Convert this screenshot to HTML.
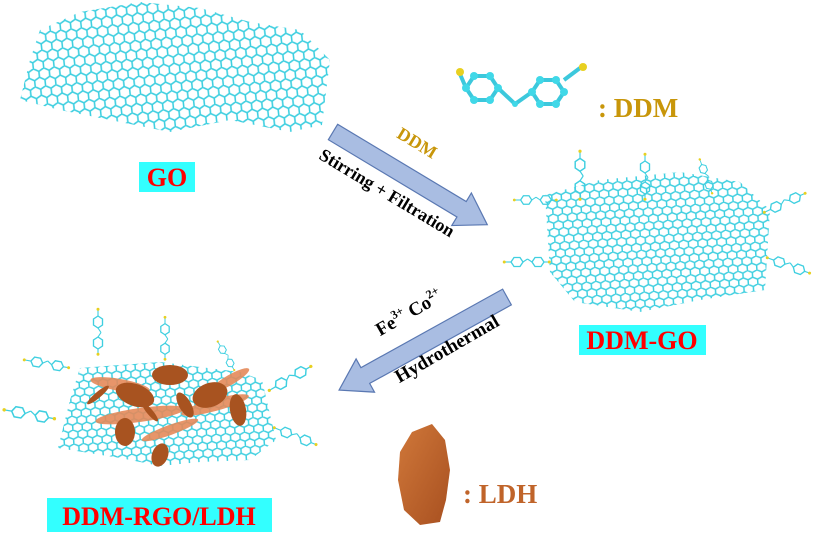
<!DOCTYPE html>
<html><head><meta charset="utf-8"><style>
html,body{margin:0;padding:0;background:#fff;}
svg{display:block;font-family:"Liberation Serif",serif;font-weight:bold;}
</style></head><body>
<svg width="839" height="545" viewBox="0 0 839 545" xmlns="http://www.w3.org/2000/svg">
<defs>
<pattern id="hex" width="10.4" height="18" patternUnits="userSpaceOnUse" patternTransform="rotate(-6)">
<path d="M5.2,0 L10.4,3 L10.4,9 L5.2,12 L0,9 L0,3 Z M5.2,12 L5.2,18" fill="none" stroke="#3fcfe0" stroke-width="1.6"/>
</pattern>
<pattern id="hex2" width="9.5" height="14" patternUnits="userSpaceOnUse" patternTransform="rotate(-4)">
<path d="M4.75,0 L9.5,2.33 L9.5,7 L4.75,9.33 L0,7 L0,2.33 Z M4.75,9.33 L4.75,14" fill="none" stroke="#3fcfe0" stroke-width="1.5"/>
</pattern>
<g id="mol">
<line x1="0" y1="0" x2="8" y2="0" stroke="#3fcfe0" stroke-width="1.5"/>
<polygon points="8,0 12,-6 20,-6 24,0 20,6 12,6" fill="none" stroke="#3fcfe0" stroke-width="1.8"/>
<line x1="24" y1="0" x2="30" y2="-4" stroke="#3fcfe0" stroke-width="1.5"/>
<line x1="30" y1="-4" x2="36" y2="0" stroke="#3fcfe0" stroke-width="1.5"/>
<polygon points="36,0 40,-6 48,-6 52,0 48,6 40,6" fill="none" stroke="#3fcfe0" stroke-width="1.8"/>
<line x1="52" y1="0" x2="58" y2="0" stroke="#3fcfe0" stroke-width="1.5"/>
<circle cx="-1" cy="0" r="2" fill="#e8d020"/>
<circle cx="59" cy="0" r="2" fill="#e8d020"/>
</g>
<linearGradient id="lg" x1="0" y1="0" x2="1" y2="1"><stop offset="0" stop-color="#d0783a"/><stop offset="1" stop-color="#a85020"/></linearGradient>
</defs>

<!-- GO sheet -->
<polygon points="40,30 80,12 140,2 200,8 250,22 300,30 330,60 322,125 290,132 230,120 170,132 110,120 60,110 20,100 30,60" fill="url(#hex)"/>
<rect x="139" y="162" width="56" height="30" fill="#33ffff"/>
<text x="167" y="186" font-size="26" fill="#ff0000" text-anchor="middle">GO</text>

<!-- DDM molecule -->
<g stroke="#3cc8dc" stroke-width="4" fill="none">
<polygon points="466,88 474,76 490,76 498,88 490,100 474,100"/>
<line x1="498" y1="88" x2="515" y2="104"/>
<line x1="515" y1="104" x2="532" y2="92"/>
<polygon points="532,92 540,80 556,80 564,92 556,104 540,104"/>
<line x1="466" y1="88" x2="460" y2="74"/>
<line x1="564" y1="80" x2="580" y2="68"/>
</g>
<g fill="#40d8e8">
<circle cx="466" cy="88" r="4"/><circle cx="474" cy="76" r="4"/><circle cx="490" cy="76" r="4"/><circle cx="498" cy="88" r="4"/><circle cx="490" cy="100" r="4"/><circle cx="474" cy="100" r="4"/>
<circle cx="532" cy="92" r="4"/><circle cx="540" cy="80" r="4"/><circle cx="556" cy="80" r="4"/><circle cx="564" cy="92" r="4"/><circle cx="556" cy="104" r="4"/><circle cx="540" cy="104" r="4"/><circle cx="515" cy="104" r="3"/>
</g>
<circle cx="460" cy="72" r="4" fill="#e8d020"/>
<circle cx="583" cy="67" r="4" fill="#e8d020"/>
<text x="598" y="117" font-size="27" fill="#c8960a">:  DDM</text>

<!-- Arrow 1 -->
<g transform="translate(333,132) rotate(31)">
<polygon points="0,-9 150,-9 150,-19 180,0 150,19 150,9 0,9" fill="#a9bde2" stroke="#5a78b2" stroke-width="1.2"/>
</g>
<text transform="translate(414,148) rotate(31)" font-size="18" fill="#c8960a" text-anchor="middle">DDM</text>
<text transform="translate(384,198) rotate(31)" font-size="18" fill="#000" text-anchor="middle">Stirring + Filtration</text>

<!-- DDM-GO -->
<polygon points="545,195 600,180 680,172 740,182 770,210 765,290 700,300 640,312 575,302 550,272" fill="url(#hex2)"/>
<use href="#mol" transform="translate(580,152) rotate(90) scale(0.8)"/>
<use href="#mol" transform="translate(645,155) rotate(90) scale(0.75)"/>
<use href="#mol" transform="translate(700,160) rotate(70) scale(0.6)"/>
<use href="#mol" transform="translate(515,200) scale(0.7)"/>
<use href="#mol" transform="translate(505,262) scale(0.75)"/>
<use href="#mol" transform="translate(765,212) rotate(-25) scale(0.75)"/>
<use href="#mol" transform="translate(768,258) rotate(20) scale(0.75)"/>
<rect x="579" y="325" width="127" height="30" fill="#33ffff"/>
<text x="642" y="349" font-size="26" fill="#ff0000" text-anchor="middle">DDM-GO</text>

<!-- Arrow 2 -->
<g transform="translate(507,297) rotate(151)">
<polygon points="0,-9 162,-9 162,-19 192,0 162,19 162,9 0,9" fill="#a9bde2" stroke="#5a78b2" stroke-width="1.2"/>
</g>
<text transform="translate(412,318) rotate(-30)" font-size="19" fill="#000" text-anchor="middle">Fe<tspan font-size="12" dy="-8">3+</tspan><tspan dy="8">  Co</tspan><tspan font-size="12" dy="-8">2+</tspan></text>
<text transform="translate(450,354) rotate(-30)" font-size="19" fill="#000" text-anchor="middle">Hydrothermal</text>

<!-- DDM-RGO/LDH -->
<polygon points="80,368 160,362 240,372 262,380 276,440 250,460 200,462 160,466 120,458 58,448 70,400" fill="url(#hex2)"/>
<use href="#mol" transform="translate(98,310) rotate(90) scale(0.75)"/>
<use href="#mol" transform="translate(165,318) rotate(90) scale(0.7)"/>
<use href="#mol" transform="translate(218,342) rotate(60) scale(0.55)"/>
<use href="#mol" transform="translate(25,360) rotate(10) scale(0.75)"/>
<use href="#mol" transform="translate(5,410) rotate(10) scale(0.85)"/>
<use href="#mol" transform="translate(270,390) rotate(-30) scale(0.8)"/>
<use href="#mol" transform="translate(275,428) rotate(22) scale(0.75)"/>
<g fill="#e58a5a" opacity="0.9">
<ellipse cx="120" cy="385" rx="30" ry="6" transform="rotate(10 120 385)"/>
<ellipse cx="140" cy="415" rx="45" ry="7" transform="rotate(-8 140 415)"/>
<ellipse cx="215" cy="405" rx="35" ry="6" transform="rotate(-15 215 405)"/>
<ellipse cx="230" cy="380" rx="22" ry="5" transform="rotate(-30 230 380)"/>
<ellipse cx="170" cy="430" rx="30" ry="5" transform="rotate(-20 170 430)"/>
</g>
<g fill="#a85320">
<ellipse cx="170" cy="375" rx="18" ry="10"/>
<ellipse cx="135" cy="395" rx="20" ry="11" transform="rotate(20 135 395)"/>
<ellipse cx="125" cy="432" rx="10" ry="14"/>
<ellipse cx="160" cy="455" rx="8" ry="12" transform="rotate(20 160 455)"/>
<ellipse cx="210" cy="395" rx="18" ry="12" transform="rotate(-20 210 395)"/>
<ellipse cx="238" cy="410" rx="8" ry="16" transform="rotate(-10 238 410)"/>
<ellipse cx="185" cy="405" rx="14" ry="6" transform="rotate(60 185 405)"/>
<ellipse cx="98" cy="395" rx="14" ry="3" transform="rotate(-40 98 395)"/>
<ellipse cx="150" cy="412" rx="12" ry="3" transform="rotate(50 150 412)"/>
</g>
<rect x="47" y="498" width="225" height="34" fill="#33ffff"/>
<text x="159" y="525" font-size="26" fill="#ff0000" text-anchor="middle">DDM-RGO/LDH</text>

<!-- LDH flake -->
<polygon points="412,432 432,424 445,440 450,470 446,500 440,522 420,525 404,510 398,480 400,452" fill="url(#lg)"/>
<text x="463" y="503" font-size="27" fill="#c0642a">:  LDH</text>
</svg>
</body></html>
